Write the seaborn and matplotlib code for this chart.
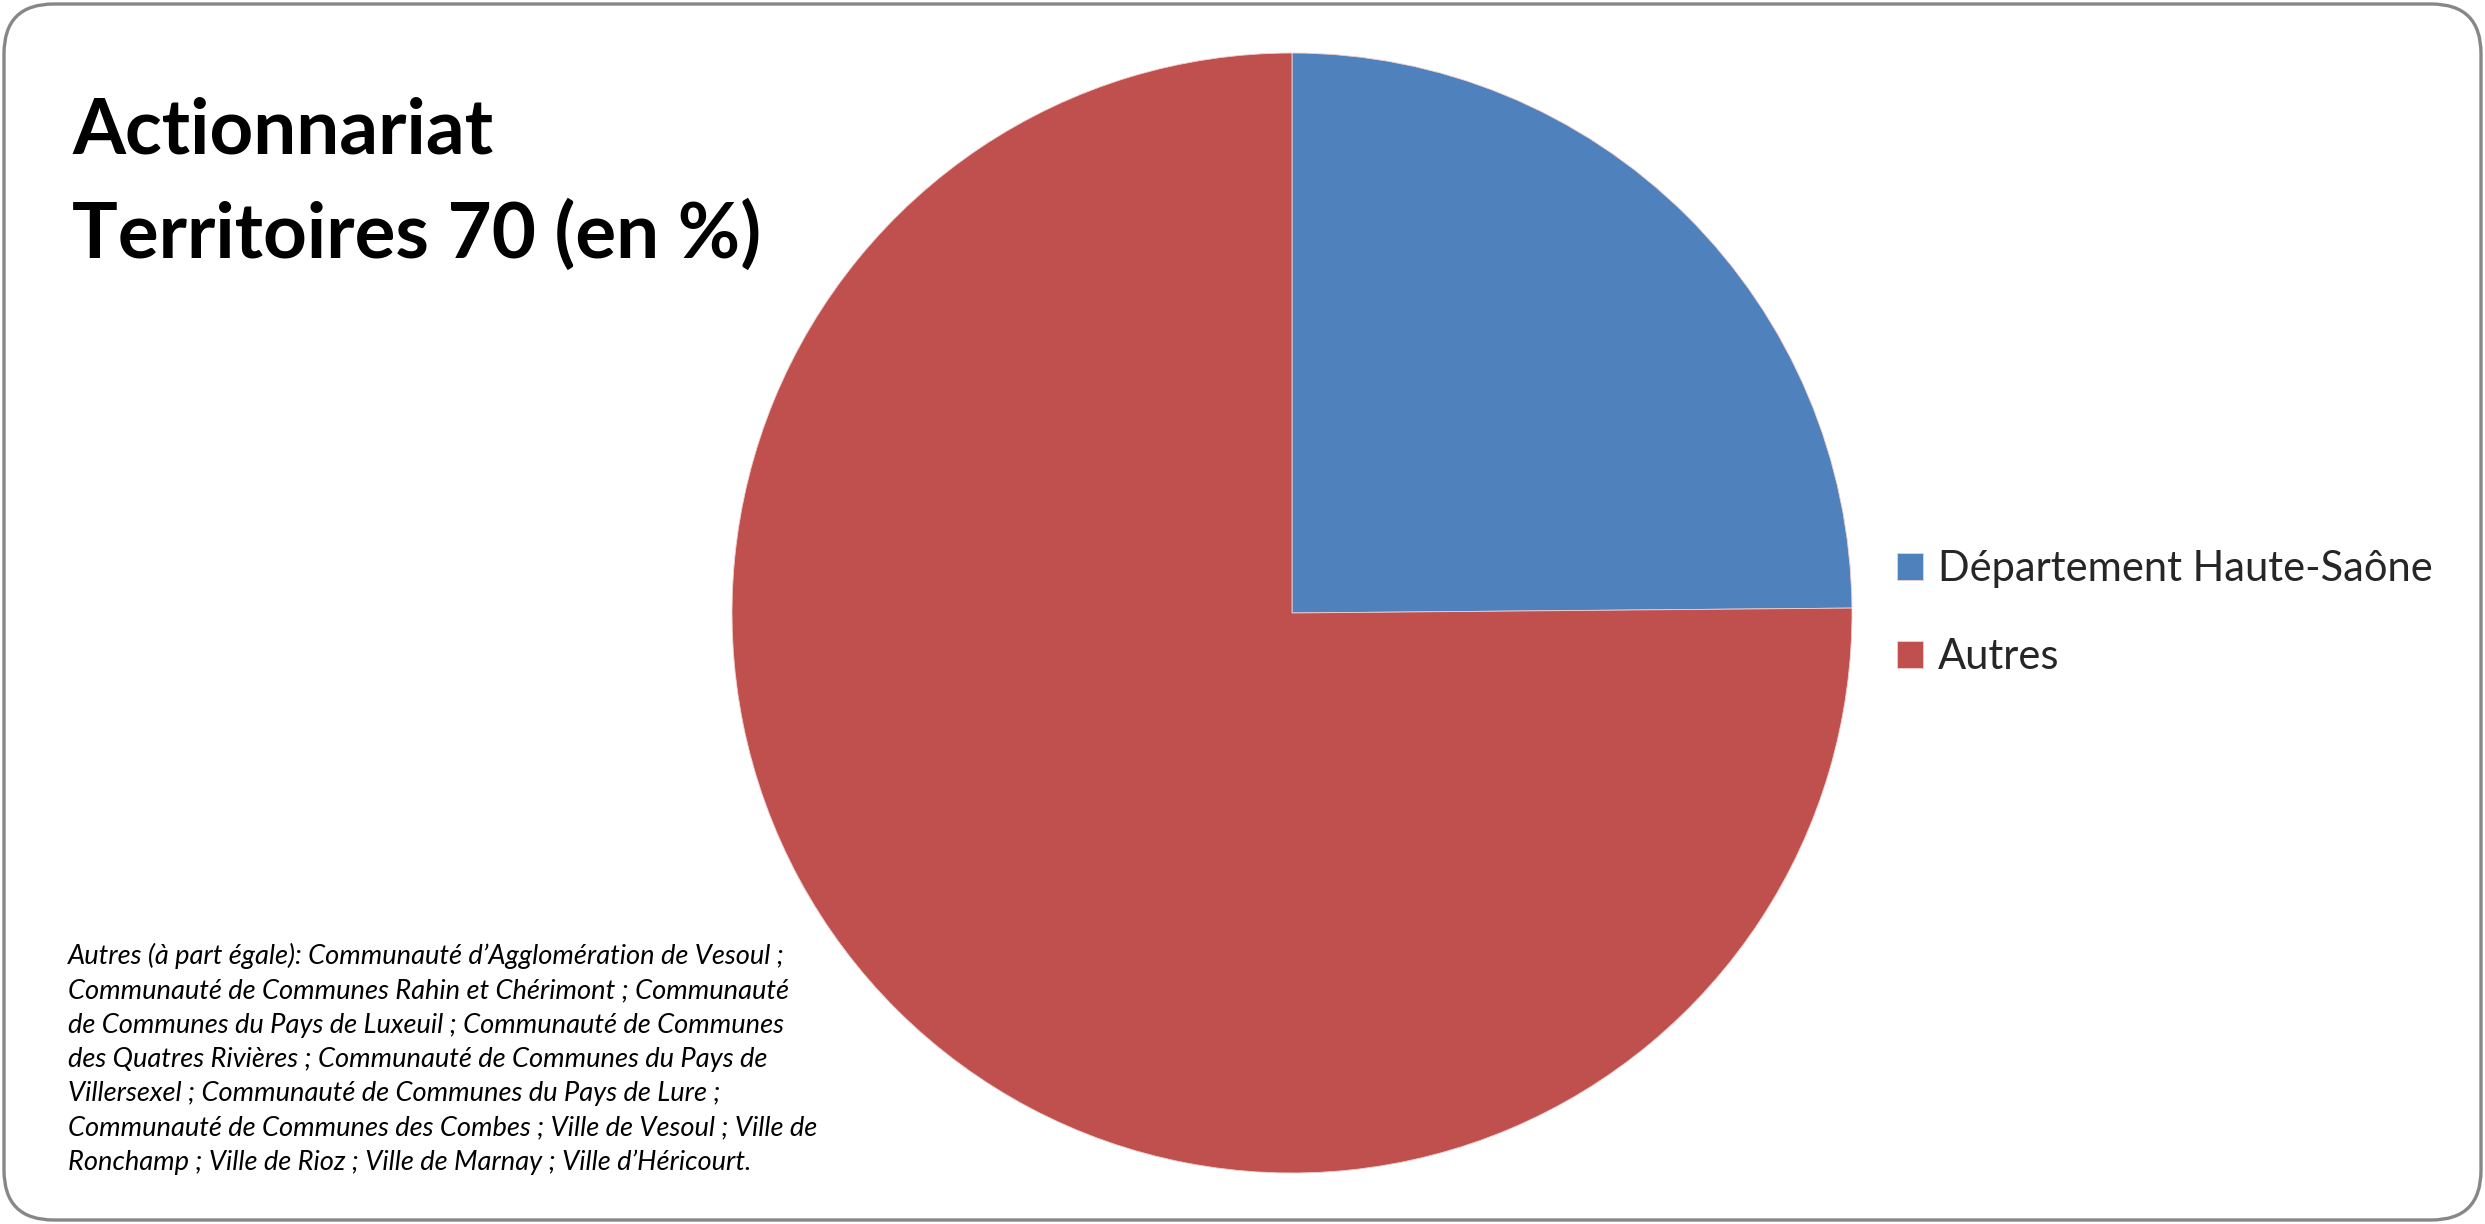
import matplotlib
matplotlib.use("Agg")
import matplotlib.pyplot as plt
from matplotlib.patches import FancyBboxPatch
import seaborn as sns

categories = ["Département Haute-Saône", "Autres"]
values = [24.86, 75.14]
colors = ["#4F81BD", "#C0504D"]
title_lines = ["Actionnariat", "Territoires 70 (en %)"]
note_lines = [
    "Autres (à part égale): Communauté d’Agglomération de Vesoul ;",
    "Communauté de Communes Rahin et Chérimont ; Communauté",
    "de Communes du Pays de Luxeuil ; Communauté de Communes",
    "des Quatres Rivières ; Communauté de Communes du Pays de",
    "Villersexel ; Communauté de Communes du Pays de Lure ;",
    "Communauté de Communes des Combes ; Ville de Vesoul ; Ville de",
    "Ronchamp ; Ville de Rioz ; Ville de Marnay ; Ville d’Héricourt.",
]

sns.set_theme(style="white")
plt.rcParams["font.family"] = ["Lato", "DejaVu Sans"]

W, H = 2485, 1224
fig = plt.figure(figsize=(W / 100, H / 100), dpi=100)
fig.patch.set_facecolor("white")

# rounded border
border = FancyBboxPatch((4 / W, 4 / H), (W - 8) / W, (H - 8) / H,
                        boxstyle="round,pad=0,rounding_size=0.02",
                        transform=fig.transFigure, fill=False,
                        edgecolor="#878787", linewidth=2.4,
                        mutation_aspect=W / H)
fig.patches.append(border)

cx, cy, r = 1292, 613, 560
ax = fig.add_axes([(cx - r) / W, (H - cy - r) / H, 2 * r / W, 2 * r / H])
wedges, _ = ax.pie(values, colors=colors, startangle=90, counterclock=False,
                   radius=1.0, wedgeprops=dict(edgecolor="#f0d0d0", linewidth=0.6))
ax.set_xlim(-1, 1)
ax.set_ylim(-1, 1)
ax.set_aspect("equal")
ax.axis("off")

# title
fig.text(72 / W, 1 - 154 / H, title_lines[0], fontsize=55, fontweight="bold",
         color="black", ha="left", va="baseline")
fig.text(72 / W, 1 - 258 / H, title_lines[1], fontsize=55, fontweight="bold",
         color="black", ha="left", va="baseline")

# legend
leg = fig.legend(wedges, categories, loc="upper left",
                 bbox_to_anchor=(1897 / W, 1 - 550 / H), frameon=False,
                 fontsize=30, handlelength=0.63, handleheight=0.63,
                 handletextpad=0.35, labelspacing=1.2, borderpad=0,
                 borderaxespad=0)

# note
y0 = 964
for i, line in enumerate(note_lines):
    fig.text(68 / W, 1 - (y0 + i * 34.3) / H, line, fontsize=19.6,
             style="italic", color="black", ha="left", va="baseline")

fig.savefig("out.png", dpi=100, facecolor="white")
